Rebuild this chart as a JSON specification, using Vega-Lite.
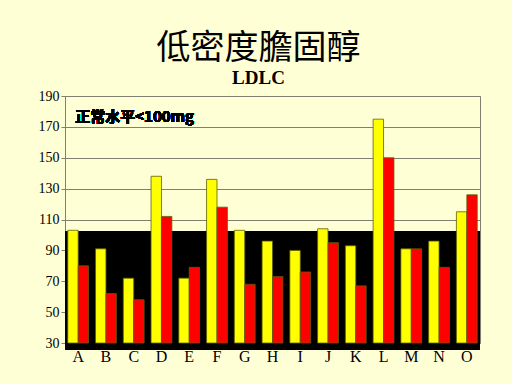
{
  "$schema": "https://vega.github.io/schema/vega-lite/v6.json",
  "width": 415,
  "height": 247,
  "autosize": {"type": "none"},
  "padding": {"left": 65, "top": 96, "right": 32, "bottom": 41},
  "background": "#FFFFD6",
  "title": {
    "text": "低密度膽固醇",
    "subtitle": "LDLC",
    "font": "Noto Sans CJK TC",
    "fontSize": 34,
    "fontWeight": "normal",
    "color": "#000000",
    "subtitleFont": "Liberation Serif",
    "subtitleFontSize": 19,
    "subtitleFontWeight": "bold",
    "subtitleColor": "#000000",
    "subtitlePadding": 3,
    "anchor": "middle",
    "dx": -14,
    "offset": 1
  },
  "config": {
    "view": {"stroke": "#808070", "strokeWidth": 1},
    "axis": {
      "labelFont": "Liberation Serif",
      "labelColor": "#000000",
      "domainColor": "#808070",
      "tickColor": "#808070",
      "gridColor": "#808070",
      "gridWidth": 1.2
    }
  },
  "data": {
    "values": [
      {"cat": "A", "series": "1", "value": 103}, {"cat": "A", "series": "2", "value": 80},
      {"cat": "B", "series": "1", "value": 91}, {"cat": "B", "series": "2", "value": 62},
      {"cat": "C", "series": "1", "value": 72}, {"cat": "C", "series": "2", "value": 58},
      {"cat": "D", "series": "1", "value": 138}, {"cat": "D", "series": "2", "value": 112},
      {"cat": "E", "series": "1", "value": 72}, {"cat": "E", "series": "2", "value": 79},
      {"cat": "F", "series": "1", "value": 136}, {"cat": "F", "series": "2", "value": 118},
      {"cat": "G", "series": "1", "value": 103}, {"cat": "G", "series": "2", "value": 68},
      {"cat": "H", "series": "1", "value": 96}, {"cat": "H", "series": "2", "value": 73},
      {"cat": "I", "series": "1", "value": 90}, {"cat": "I", "series": "2", "value": 76},
      {"cat": "J", "series": "1", "value": 104}, {"cat": "J", "series": "2", "value": 95},
      {"cat": "K", "series": "1", "value": 93}, {"cat": "K", "series": "2", "value": 67},
      {"cat": "L", "series": "1", "value": 175}, {"cat": "L", "series": "2", "value": 150},
      {"cat": "M", "series": "1", "value": 91}, {"cat": "M", "series": "2", "value": 91},
      {"cat": "N", "series": "1", "value": 96}, {"cat": "N", "series": "2", "value": 79},
      {"cat": "O", "series": "1", "value": 115}, {"cat": "O", "series": "2", "value": 126}
    ]
  },
  "layer": [
    {
      "mark": {"type": "rect", "color": "#000000"},
      "encoding": {
        "y": {"datum": 102, "type": "quantitative", "scale": {"domain": [30, 190]}},
        "y2": {"datum": 25.5}
      }
    },
    {
      "mark": {"type": "bar", "stroke": "#606000", "strokeWidth": 0.8},
      "encoding": {
        "x": {
          "field": "cat",
          "type": "nominal",
          "scale": {"paddingInner": 0.25, "paddingOuter": 0.1},
          "axis": {"title": null, "labelAngle": 0, "labelFontSize": 16, "labelPadding": 5, "ticks": false, "domain": false}
        },
        "xOffset": {"field": "series", "type": "nominal", "scale": {"paddingInner": 0}},
        "y": {
          "field": "value",
          "type": "quantitative",
          "scale": {"domain": [30, 190], "nice": false, "zero": false},
          "axis": {"title": null, "values": [30, 50, 70, 90, 110, 130, 150, 170, 190], "tickCount": 20, "labelOverlap": false, "labelFontSize": 14, "tickSize": 4, "labelPadding": 2, "grid": true}
        },
        "y2": {"datum": 30},
        "color": {
          "field": "series",
          "type": "nominal",
          "scale": {"domain": ["1", "2"], "range": ["#FFFF00", "#FF0000"]},
          "legend": null
        }
      }
    },
    {
      "mark": {"type": "text", "text": "正常水平<100mg", "font": "Noto Sans CJK TC", "fontSize": 15, "fontWeight": "bold", "align": "left", "baseline": "middle", "dx": -3, "fill": "#000000", "stroke": null},
      "encoding": {
        "x": {"datum": "A", "type": "nominal"},
        "y": {"datum": 176.4, "type": "quantitative"}
      }
    }
  ]
}
